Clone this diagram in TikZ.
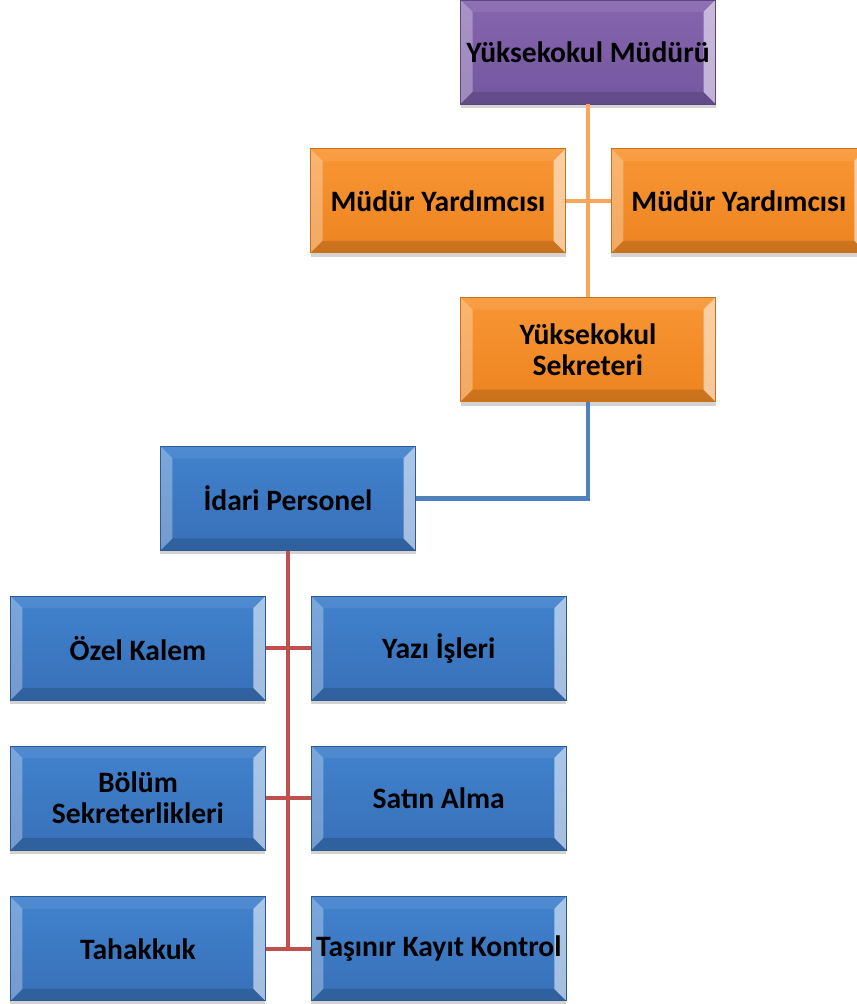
\documentclass[tikz,border=0pt]{standalone}
\usepackage{fontspec}
\setmainfont{Carlito}
\usetikzlibrary{positioning, shadows}
\definecolor{PurpleTop}{HTML}{8565AE}
\definecolor{PurpleBot}{HTML}{7457A0}
\definecolor{OrangeTop}{HTML}{F89634}
\definecolor{OrangeBot}{HTML}{EC8420}
\definecolor{BlueTop}{HTML}{4182CE}
\definecolor{BlueBot}{HTML}{3870B8}
\definecolor{OrangeLine}{HTML}{F9A55C}
\definecolor{BlueLine}{HTML}{4F81BD}
\definecolor{RedLine}{HTML}{C0504D}

\begin{document}
\begin{tikzpicture}[
      font = \fontsize{14.8}{15.5}\selectfont\bfseries,
      bevel/.style={
        path picture={
          \path (path picture bounding box.north west) coordinate (pnw)
                (path picture bounding box.north east) coordinate (pne)
                (path picture bounding box.south west) coordinate (psw)
                (path picture bounding box.south east) coordinate (pse);
          % top and bottom edges
          \fill[white, opacity = .08] (pnw) -- (pne) -- ([shift={(-6pt,-6pt)}]pne)
            -- ([shift={(6pt,-6pt)}]pnw) -- cycle;
          \fill[black, opacity = .14] (psw) -- (pse) -- ([shift={(-6pt,6pt)}]pse)
            -- ([shift={(6pt,6pt)}]psw) -- cycle;
          % left and right edges
          \fill[white, opacity = .3] (pnw) -- ([shift={(6pt,-6pt)}]pnw)
            -- ([shift={(6pt,6pt)}]psw) -- (psw) -- cycle;
          \fill[white, opacity = .55] (pne) -- ([shift={(-6pt,-6pt)}]pne)
            -- ([shift={(-6pt,6pt)}]pse) -- (pse) -- cycle;
        }
      },
      box/.style={
        bevel,
        minimum width = 127.5pt,
        minimum height = 52pt,
        inner sep = 1pt,
        align = center,
        text = black,
        drop shadow = {shadow xshift = 0pt, shadow yshift = -2pt, opacity = .35},
      },
      purplebox/.style={box, draw = PurpleBot!80!black, top color = PurpleTop, bottom color = PurpleBot},
      orangebox/.style={box, draw = OrangeBot!85!black, top color = OrangeTop, bottom color = OrangeBot},
      bluebox/.style={box, draw = BlueBot!80!black, top color = BlueTop, bottom color = BlueBot},
      link/.style={line width = 2.2pt},
    ]
    \useasboundingbox (-294pt,26pt) rectangle (134pt,-476pt);

    \node[purplebox] (mudur) {Yüksekokul Müdürü};
    \node[orangebox, below = 22pt of mudur, xshift = -75pt] (yrd1) {Müdür Yardımcısı};
    \node[orangebox, right = 22.5pt of yrd1] (yrd2) {Müdür Yardımcısı};
    \node[orangebox, below = 22pt of yrd1, xshift = 75pt] (sek) {Yüksekokul\\Sekreteri};
    \node[bluebox, below = 22pt of sek, xshift = -150pt] (idari) {İdari Personel};

    \node[bluebox, below = 22.5pt of idari, xshift = -75pt] (ozel) {Özel Kalem};
    \node[bluebox, right = 22.5pt of ozel] (yazi) {Yazı İşleri};
    \node[bluebox, below = 22.5pt of ozel] (bolum) {Bölüm\\Sekreterlikleri};
    \node[bluebox, right = 22.5pt of bolum] (satin) {Satın Alma};
    \node[bluebox, below = 23pt of bolum] (tahak) {Tahakkuk};
    \node[bluebox, right = 22.5pt of tahak, inner sep = 0pt] (tasinir) {Taşınır Kayıt Kontrol};

    % connectors
    \draw[link, OrangeLine] (mudur) -- (sek);
    \draw[link, OrangeLine] (yrd1) -- (yrd2);
    \draw[link, BlueLine] (sek.south) |- (idari.east);
    \coordinate (redend) at (idari.south |- tahak.east);
    \draw[link, RedLine] (idari.south) -- (redend);
    \draw[link, RedLine] (ozel) -- (yazi);
    \draw[link, RedLine] (bolum) -- (satin);
    \draw[link, RedLine] (tahak) -- (tasinir);
  \end{tikzpicture}
\end{document}
